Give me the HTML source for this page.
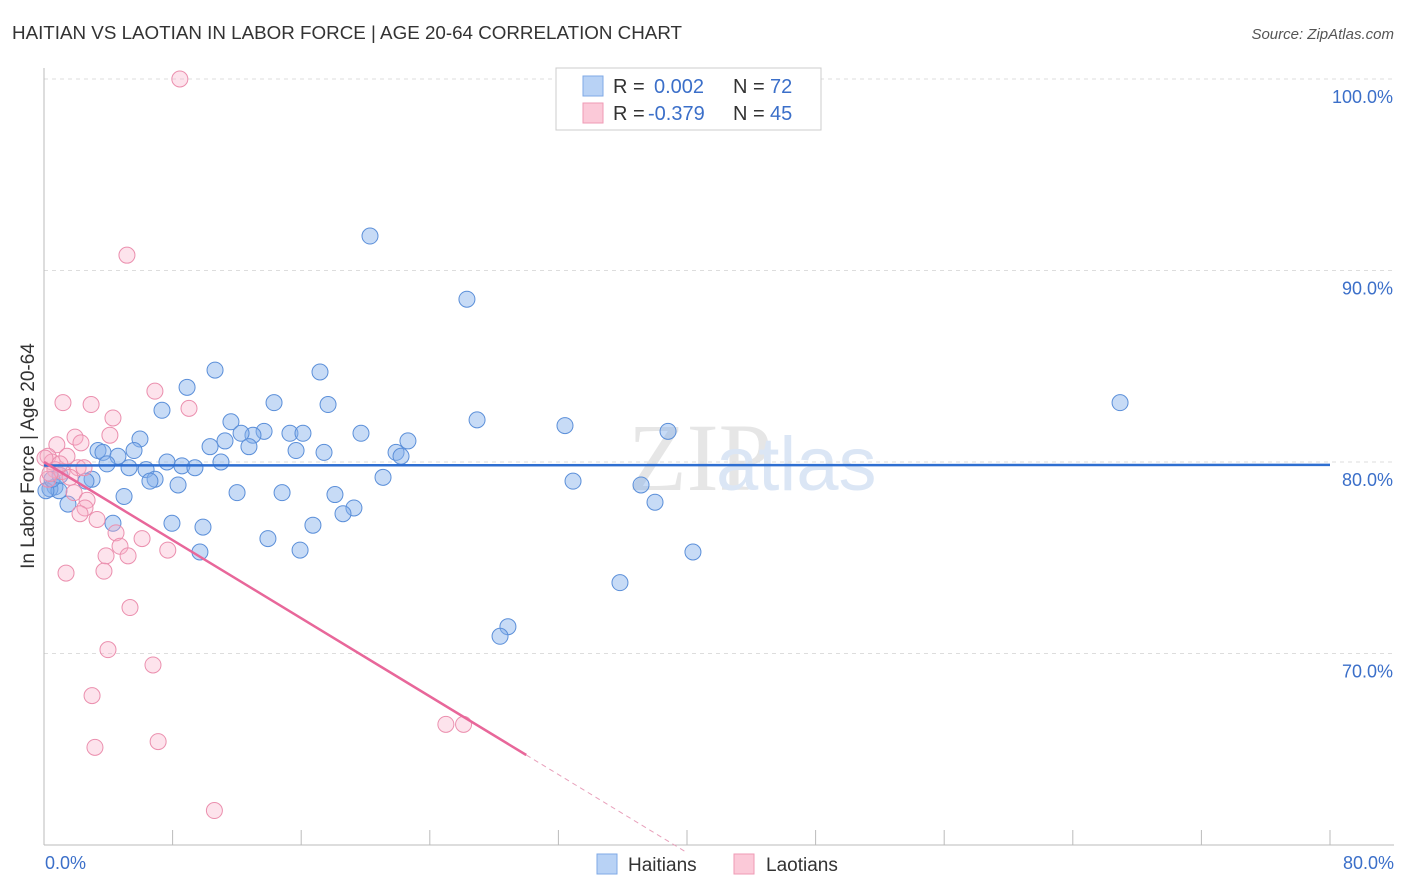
<!DOCTYPE html>
<html><head><meta charset="utf-8"><style>
body{margin:0;background:#fff;font-family:"Liberation Sans",sans-serif;}
svg{display:block}
</style></head><body>
<svg id="c" width="1406" height="892" xmlns="http://www.w3.org/2000/svg">
<text x="12" y="39" font-size="18.8" fill="#333">HAITIAN VS LAOTIAN IN LABOR FORCE | AGE 20-64 CORRELATION CHART</text>
<text x="1394" y="39" font-size="15" fill="#555" font-style="italic" text-anchor="end">Source: ZipAtlas.com</text>
<text x="628" y="490" font-size="96" fill="#e6e6e6" font-family="Liberation Serif,serif">ZIP</text>
<text x="716" y="490" font-size="76" fill="#dbe6f5">atlas</text>
<g id="grid"></g>
<g id="axes"></g>
<g id="marks"></g>
<text x="34" y="456" font-size="19" fill="#333" text-anchor="middle" transform="rotate(-90 34 456)">In Labor Force | Age 20-64</text>
<text x="45" y="869" font-size="18" fill="#3b6fc9">0.0%</text>
<text x="1394" y="869" font-size="18" fill="#3b6fc9" text-anchor="end">80.0%</text>
<g>
<rect x="556" y="68" width="265" height="62" fill="#fff" stroke="#ccc"/>
<rect x="583" y="76" width="20" height="20" fill="#b8d2f5" stroke="#7fa9e6"/>
<rect x="583" y="103" width="20" height="20" fill="#fbc9d8" stroke="#ef9ab5"/>
<text x="613" y="93" font-size="20" fill="#333">R = </text><text x="654" y="93" font-size="20" fill="#3b6fc9">0.002</text>
<text x="733" y="93" font-size="20" fill="#333">N = </text><text x="770" y="93" font-size="20" fill="#3b6fc9">72</text>
<text x="613" y="120" font-size="20" fill="#333">R = </text><text x="648" y="120" font-size="20" fill="#3b6fc9">-0.379</text>
<text x="733" y="120" font-size="20" fill="#333">N = </text><text x="770" y="120" font-size="20" fill="#3b6fc9">45</text>
</g>
<g>
<rect x="597" y="854" width="20" height="20" fill="#b8d2f5" stroke="#7fa9e6"/>
<text x="628" y="871" font-size="19" fill="#333">Haitians</text>
<rect x="734" y="854" width="20" height="20" fill="#fbc9d8" stroke="#ef9ab5"/>
<text x="766" y="871" font-size="19" fill="#333">Laotians</text>
</g>
</svg>
<script>
const yTicks=[70,80,90,100];
const xTicks=[0,8,16,24,32,40,48,56,64,72,80];
const haitianX=[20.28,26.31,66.94,10.64,17.17,8.9,14.31,17.67,7.34,11.63,26.94,32.41,38.82,13.69,13.0,12.26,11.26,15.3,16.11,19.72,22.64,5.97,10.33,12.75,15.68,17.42,21.9,22.21,3.36,3.67,5.6,4.6,7.65,8.58,9.39,11.01,3.92,5.29,6.35,6.91,6.59,8.34,2.99,2.61,21.09,32.91,37.14,0.68,0.37,0.93,4.98,12.01,14.81,18.1,38.01,1.49,19.28,18.6,7.96,9.89,4.29,16.73,13.93,9.7,15.93,40.37,35.83,28.86,28.37,0.12,0.5,1.0];
const haitianY=[91.8,88.5,83.1,84.8,84.7,83.9,83.1,83.0,82.7,82.1,82.2,81.9,81.6,81.6,81.4,81.5,81.1,81.5,81.5,81.5,81.1,81.2,80.8,80.8,80.6,80.5,80.5,80.3,80.6,80.5,80.6,80.3,80.0,79.8,79.7,80.0,79.9,79.7,79.6,79.1,79.0,78.8,79.1,79.0,79.2,79.0,78.8,78.7,78.6,78.5,78.2,78.4,78.4,78.3,77.9,77.8,77.6,77.3,76.8,76.6,76.8,76.7,76.0,75.3,75.4,75.3,73.7,71.4,70.9,78.5,79.1,79.3];
const laotianX=[8.45,5.16,6.9,9.02,1.18,2.93,4.29,4.1,1.93,0.8,2.3,1.43,0.25,0.5,0.68,1.12,2.12,1.62,0.25,1.87,2.68,2.55,2.24,3.3,4.48,6.1,7.7,4.73,3.86,5.23,3.73,1.37,5.35,3.98,6.78,2.99,25.0,26.1,7.1,3.17,10.6,0.99,0.37,2.49,0.06];
const laotianY=[100.0,90.8,83.7,82.8,83.1,83.0,82.3,81.4,81.3,80.9,81.0,80.3,80.3,80.0,79.6,79.5,79.7,79.2,79.1,78.4,78.0,77.6,77.3,77.0,76.3,76.0,75.4,75.6,75.1,75.1,74.3,74.2,72.4,70.2,69.4,67.8,66.3,66.3,65.4,65.1,61.8,79.9,79.4,79.7,80.2];
const blueTrend=[0,79.82,80,79.85];
const pinkTrend=[0,80.0,30,64.7];
const pinkEnd=40;
const X=v=>44+v/80*1286;
const Y=v=>79+(100-v)*19.15;
const NS="http://www.w3.org/2000/svg";
function mk(t,a,p){const e=document.createElementNS(NS,t);for(const k in a)e.setAttribute(k,a[k]);p.appendChild(e);return e;}
const grid=document.getElementById('grid'),axes=document.getElementById('axes'),marks=document.getElementById('marks');
yTicks.forEach(v=>{
 const l=mk('line',{x1:44,x2:1394,y1:Y(v),y2:Y(v),stroke:'#ddd','stroke-dasharray':'4,4'},grid);
 
 
 const t=mk('text',{x:1393,y:Y(v)+24,'font-size':18,fill:'#3b6fc9','text-anchor':'end'},axes);
 t.textContent=v.toFixed(1)+'%';
 
 
});
const ax=mk('line',{x1:44,x2:44,y1:68,y2:845,stroke:'#bbb'},axes);


const bx=mk('line',{x1:44,x2:1394,y1:845,y2:845,stroke:'#bbb'},axes);


xTicks.forEach(v=>{
 const l=mk('line',{x1:X(v),x2:X(v),y1:830,y2:845,stroke:'#bbb'},axes);
 
 
});
haitianX.forEach((v,i)=>{
 const c=mk('circle',{cx:X(v),cy:Y(haitianY[i]),r:8,fill:'rgba(130,175,235,0.45)',stroke:'#5b8fd9','stroke-width':1},marks);
 
 
});
laotianX.forEach((v,i)=>{
 const c=mk('circle',{cx:X(v),cy:Y(laotianY[i]),r:8,fill:'rgba(248,175,200,0.35)',stroke:'#eb8fae','stroke-width':1},marks);
 
 
});
const bt=mk('line',{x1:X(blueTrend[0]),y1:Y(blueTrend[1]),x2:X(blueTrend[2]),y2:Y(blueTrend[3]),stroke:'#2f6fd1','stroke-width':2.5},marks);


const slope=(pinkTrend[3]-pinkTrend[1])/(pinkTrend[2]-pinkTrend[0]);
const pt=mk('line',{x1:X(pinkTrend[0]),y1:Y(pinkTrend[1]),x2:X(pinkTrend[2]),y2:Y(pinkTrend[3]),stroke:'#e8679a','stroke-width':2.5},marks);


const pd=mk('line',{x1:X(pinkTrend[2]),y1:Y(pinkTrend[3]),x2:X(pinkEnd),y2:Y(pinkTrend[1]+slope*pinkEnd),stroke:'#e8a0bb','stroke-width':1,'stroke-dasharray':'5,4'},marks);


</script>
</body></html>
